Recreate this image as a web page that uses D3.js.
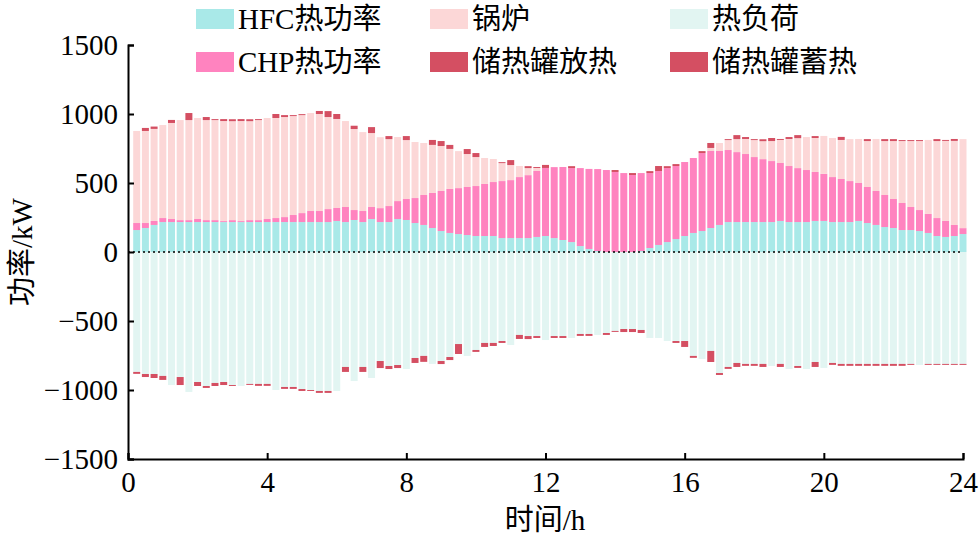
<!DOCTYPE html>
<html><head><meta charset="utf-8">
<script src="https://cdn.jsdelivr.net/npm/d3@7"></script>
<style>body{margin:0;background:#fff}</style>
</head><body>
<svg id="chart" width="980" height="539"></svg>
<script>
// 96 points, 15-min steps, kW
const hfc = [159,174,196,217,217,217,217,217,217,217,217,217,217,217,217,217,217,217,217,217,217,217,217,225,217,232,217,239,217,217,239,232,210,196,174,152,138,130,123,116,116,116,101,101,101,101,109,116,101,87,72,43,22,7,0,0,0,0,7,29,51,72,94,116,138,152,174,196,217,217,217,217,217,217,225,217,217,217,225,225,217,217,217,225,210,196,181,174,159,159,152,138,116,109,116,130];
const chp = [51,36,29,29,22,14,14,22,14,14,7,14,7,14,14,22,29,36,51,65,80,80,94,94,109,72,80,87,101,116,130,152,181,217,254,290,319,333,348,362,377,391,413,420,442,456,478,493,514,529,536,565,580,594,594,580,572,558,565,543,536,536,529,536,543,565,558,536,522,507,493,471,456,442,420,406,391,377,355,341,326,312,297,275,261,246,232,210,196,167,152,138,130,116,80,43];
const boiler = [667,667,667,674,696,725,725,732,725,725,725,717,725,717,725,732,725,725,717,710,710,703,667,645,623,587,572,536,514,485,464,427,406,377,348,326,290,268,239,210,188,167,130,109,80,51,22,0,0,0,0,0,0,0,0,0,0,0,0,0,0,0,0,0,0,0,22,58,72,94,109,123,130,145,167,196,217,239,246,275,283,283,304,319,333,377,391,420,449,478,500,536,558,580,609,645];
const discharge = [0,22,17,0,22,0,51,0,22,7,14,14,14,14,7,0,29,14,7,7,0,22,43,36,0,24,0,43,0,22,0,29,0,0,36,36,29,0,36,29,0,0,7,36,0,14,7,22,0,0,14,0,0,0,0,14,0,14,0,14,36,14,14,0,0,14,36,0,7,29,14,7,14,22,7,14,22,0,14,0,0,22,0,0,14,0,14,14,7,7,7,0,14,7,14,0];
const load = [869,884,884,898,964,906,1014,942,971,949,942,964,971,956,956,956,1000,978,978,993,1000,1007,1007,1007,833,935,833,913,790,826,819,848,768,753,811,790,761,667,753,710,659,659,645,674,601,609,609,638,609,609,623,594,594,601,587,572,558,558,565,623,623,645,645,645,753,775,717,877,833,804,811,811,811,826,811,848,826,848,797,840,804,811,811,811,811,811,811,811,811,811,819,811,811,811,811,811];
const charge = [14,22,29,29,0,58,0,29,14,22,22,7,0,7,14,14,0,14,14,14,7,14,14,0,36,0,36,0,51,22,22,0,36,43,0,22,22,72,0,14,29,22,14,0,29,22,14,0,14,14,0,14,14,0,14,7,22,22,22,0,0,0,14,43,14,0,80,14,14,29,14,14,22,0,22,0,14,0,36,0,14,14,14,14,14,14,14,14,14,7,0,7,7,7,7,7];
const xTicks = [0,4,8,12,16,20,24];
const yTicks = [-1500,-1000,-500,0,500,1000,1500];
const legendItems = [
  {name:'HFC热功率', color:'#a9e9e8'}, {name:'锅炉', color:'#fcd7d7'}, {name:'热负荷', color:'#e2f5f2'},
  {name:'CHP热功率', color:'#ff83bf'}, {name:'储热罐放热', color:'#d44f62'}, {name:'储热罐蓄热', color:'#d44f62'}
];

const FONT = '"Liberation Serif","Noto Sans CJK SC",serif';
const FS = 29;
const svg = d3.select('#chart');
const x = d3.scaleLinear().domain([0,24]).range([128,963]);
const y = d3.scaleLinear().domain([-1500,1500]).range([459,45]);
const bw = 7;
const tOf = i => (i + 1) * 0.25;

const pos = [[hfc,'#a9e9e8'],[chp,'#ff83bf'],[boiler,'#fcd7d7'],[discharge,'#d44f62']];
const neg = [[load,'#e2f5f2'],[charge,'#d44f62']];
const g = svg.append('g');
hfc.forEach((_, i) => {
  let base = 0;
  pos.forEach(([arr,c]) => {
    const v = arr[i];
    if (v > 0) g.append('rect').attr('x', x(tOf(i)) - bw/2).attr('width', bw)
      .attr('y', y(base + v)).attr('height', y(base) - y(base + v)).attr('fill', c);
    base += v;
  });
  base = 0;
  neg.forEach(([arr,c]) => {
    const v = arr[i];
    if (v > 0) g.append('rect').attr('x', x(tOf(i)) - bw/2).attr('width', bw)
      .attr('y', y(base)).attr('height', y(base - v) - y(base)).attr('fill', c);
    base -= v;
  });
});

// zero line
svg.append('line').attr('x1',128).attr('x2',963).attr('y1',y(0)).attr('y2',y(0))
  .attr('stroke','#000').attr('stroke-width',1.5).attr('stroke-dasharray','2,3');

// axes
const ax = svg.append('g').attr('transform',`translate(0,459)`)
  .call(d3.axisBottom(x).tickValues(xTicks).tickSize(-6).tickPadding(12));
const ay = svg.append('g').attr('transform',`translate(128,0)`)
  .call(d3.axisLeft(y).tickValues(yTicks).tickSize(-6).tickPadding(10).tickFormat(d => d < 0 ? '\u2212' + Math.abs(d) : d));
[ax, ay].forEach(a => {
  a.select('.domain').attr('stroke-width',2);
  a.selectAll('.tick line').attr('stroke-width',2);
  a.selectAll('text').attr('font-family',FONT).attr('font-size',FS).attr('fill','#000');
});
ax.selectAll('text').attr('dy','0.71em').attr('y',12);

svg.append('text').attr('x',545).attr('y',530).attr('text-anchor','middle')
  .attr('font-family',FONT).attr('font-size',FS).text('时间/h');
svg.append('text').attr('transform','translate(32,252) rotate(-90)').attr('text-anchor','middle')
  .attr('font-family',FONT).attr('font-size',FS).text('功率/kW');

// legend
const colX = [196, 430, 670], rowY = [19, 62];
legendItems.forEach((d, k) => {
  const lx = colX[k % 3], ly = rowY[Math.floor(k / 3)];
  svg.append('rect').attr('x',lx).attr('y',ly-10).attr('width',38).attr('height',20).attr('fill',d.color);
  svg.append('text').attr('x',lx+42).attr('y',ly).attr('dy','0.35em')
    .attr('font-family',FONT).attr('font-size',FS).text(d.name);
});
</script>
</body></html>
